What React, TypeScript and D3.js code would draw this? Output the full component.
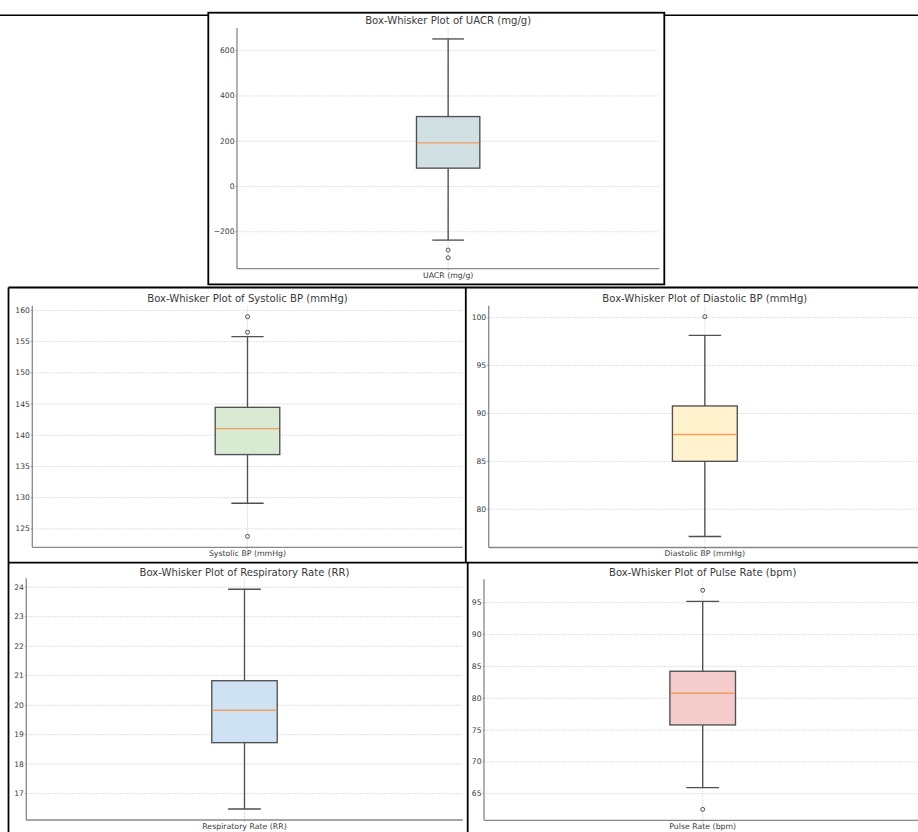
import React from "react";
import * as d3 from "d3";

// ---- data ----
const panelLabels = [
  "UACR (mg/g)",
  "Systolic BP (mmHg)",
  "Diastolic BP (mmHg)",
  "Respiratory Rate (RR)",
  "Pulse Rate (bpm)",
];
const boxColors = ["#d0e0e3", "#d9ead3", "#fff2cc", "#cfe2f3", "#f4cccc"];
const whiskerLow = [-237, 129.1, 77.15, 16.48, 65.95];
const q1Values = [81, 136.9, 85.0, 18.73, 75.8];
const medianValues = [193, 141.07, 87.8, 19.83, 80.78];
const q3Values = [309, 144.47, 90.78, 20.83, 84.23];
const whiskerHigh = [652, 155.8, 98.15, 23.93, 95.2];
const outlierValues = [[-281, -315], [159.0, 156.5, 123.8], [100.1], [], [96.95, 62.55]];
const yTickValues = [
  [-200, 0, 200, 400, 600],
  [125, 130, 135, 140, 145, 150, 155, 160],
  [80, 85, 90, 95, 100],
  [17, 18, 19, 20, 21, 22, 23, 24],
  [65, 70, 75, 80, 85, 90, 95],
];

// ---- layout ----
const layouts = [
  { x0: 237, x1: 659.3, y0: 28, y1: 268.7, titleY: 20.7, labelY: 275.3 },
  { x0: 32.3, x1: 462.7, y0: 305.7, y1: 547.3, titleY: 298.3, labelY: 553.3 },
  { x0: 488.7, x1: 921, y0: 305.7, y1: 547.5, titleY: 298.3, labelY: 553.3 },
  { x0: 26.3, x1: 462.7, y0: 578.3, y1: 820, titleY: 572.7, labelY: 826.7 },
  { x0: 484, x1: 921.4, y0: 579.3, y1: 820.3, titleY: 572.7, labelY: 826.7 },
];

const FONT = "'DejaVu Sans', sans-serif";
const fmt = d3.format("");

function Panel({ i }: { i: number }) {
  const L = layouts[i];
  const allVals = [whiskerLow[i], whiskerHigh[i], ...outlierValues[i]];
  const lo = d3.min(allVals) as number;
  const hi = d3.max(allVals) as number;
  const pad = (hi - lo) * 0.05;
  const y = d3.scaleLinear().domain([lo - pad, hi + pad]).range([L.y1, L.y0]);
  const x = d3.scaleLinear().domain([0.5, 1.5]).range([L.x0, L.x1]);
  const cx = x(1);
  const bw = x(1.075) - x(0.925);
  const cw = bw / 2;
  const gridColor = "#cfcfcf";
  const dark = "#505050";
  const textColor = "#3a3a3a";
  return (
    <g>
      <clipPath id={`clip${i}`}>
        <rect x={L.x0} y={L.y0} width={L.x1 - L.x0} height={L.y1 - L.y0} />
      </clipPath>
      {/* grid */}
      <g clipPath={`url(#clip${i})`}>
        {yTickValues[i].map((t) => (
          <line key={t} x1={L.x0} x2={L.x1} y1={y(t)} y2={y(t)} stroke={gridColor} strokeWidth={0.9} strokeDasharray="1.2,1.2" />
        ))}
        <line x1={cx} x2={cx} y1={L.y0} y2={L.y1} stroke={gridColor} strokeWidth={0.9} strokeDasharray="1.2,1.2" />
      </g>
      {/* whiskers */}
      <line x1={cx} x2={cx} y1={y(q3Values[i])} y2={y(whiskerHigh[i])} stroke={dark} strokeWidth={1.35} />
      <line x1={cx} x2={cx} y1={y(q1Values[i])} y2={y(whiskerLow[i])} stroke={dark} strokeWidth={1.35} />
      <line x1={cx - cw / 2} x2={cx + cw / 2} y1={y(whiskerHigh[i])} y2={y(whiskerHigh[i])} stroke={dark} strokeWidth={1.35} />
      <line x1={cx - cw / 2} x2={cx + cw / 2} y1={y(whiskerLow[i])} y2={y(whiskerLow[i])} stroke={dark} strokeWidth={1.35} />
      {/* box */}
      <rect x={cx - bw / 2} y={y(q3Values[i])} width={bw} height={y(q1Values[i]) - y(q3Values[i])} fill={boxColors[i]} stroke={dark} strokeWidth={1.35} />
      <line x1={cx - bw / 2 + 0.7} x2={cx + bw / 2 - 0.7} y1={y(medianValues[i])} y2={y(medianValues[i])} stroke="#f29d62" strokeWidth={1.35} />
      {/* outliers */}
      {outlierValues[i].map((v, k) => (
        <circle key={k} cx={cx} cy={y(v)} r={2} fill="none" stroke={dark} strokeWidth={1} />
      ))}
      {/* spines */}
      <line x1={L.x0} x2={L.x0} y1={L.y0} y2={L.y1} stroke="#888" strokeWidth={1.3} />
      <line x1={L.x0} x2={L.x1} y1={L.y1} y2={L.y1} stroke="#888" strokeWidth={1.3} />
      {/* ticks */}
      {yTickValues[i].map((t) => (
        <g key={t}>
          <line x1={L.x0 - 1.5} x2={L.x0} y1={y(t)} y2={y(t)} stroke="#888" strokeWidth={0.8} />
          <text x={L.x0 - 2.5} y={y(t)} textAnchor="end" dominantBaseline="central" fontSize={7.6} fill={textColor} fontFamily={FONT}>
            {fmt(t)}
          </text>
        </g>
      ))}
      <line x1={cx} x2={cx} y1={L.y1} y2={L.y1 + 1.5} stroke="#888" strokeWidth={0.8} />
      <text x={cx} y={L.labelY} textAnchor="middle" dominantBaseline="central" fontSize={7.8} fill={textColor} fontFamily={FONT}>
        {panelLabels[i]}
      </text>
      <text x={cx} y={L.titleY} textAnchor="middle" dominantBaseline="central" fontSize={10.1} fill={textColor} fontFamily={FONT}>
        {`Box-Whisker Plot of ${panelLabels[i]}`}
      </text>
    </g>
  );
}

export default function App() {
  return (
    <svg
      width={918}
      height={832}
      style={{ position: "absolute", left: 0, top: 0, background: "#fff" }}
    >
      <rect x={0} y={0} width={918} height={832} fill="#fff" />
      {[0, 1, 2, 3, 4].map((i) => (
        <Panel key={i} i={i} />
      ))}
      {/* frames */}
      <line x1={0} x2={208.3} y1={15.3} y2={15.3} stroke="#000" strokeWidth={1.4} />
      <line x1={664.3} x2={918} y1={15.3} y2={15.3} stroke="#000" strokeWidth={1.4} />
      <rect x={208.3} y={12.7} width={456} height={271.7} fill="none" stroke="#000" strokeWidth={1.8} />
      <line x1={8.5} x2={918} y1={287.5} y2={287.5} stroke="#000" strokeWidth={1.8} />
      <line x1={8.5} x2={918} y1={562.7} y2={562.7} stroke="#000" strokeWidth={1.8} />
      <line x1={8.5} x2={8.5} y1={287.5} y2={832} stroke="#000" strokeWidth={1.8} />
      <line x1={465.8} x2={465.8} y1={287.5} y2={562.7} stroke="#000" strokeWidth={1.8} />
      <line x1={467.7} x2={467.7} y1={562.7} y2={832} stroke="#000" strokeWidth={1.8} />
    </svg>
  );
}
